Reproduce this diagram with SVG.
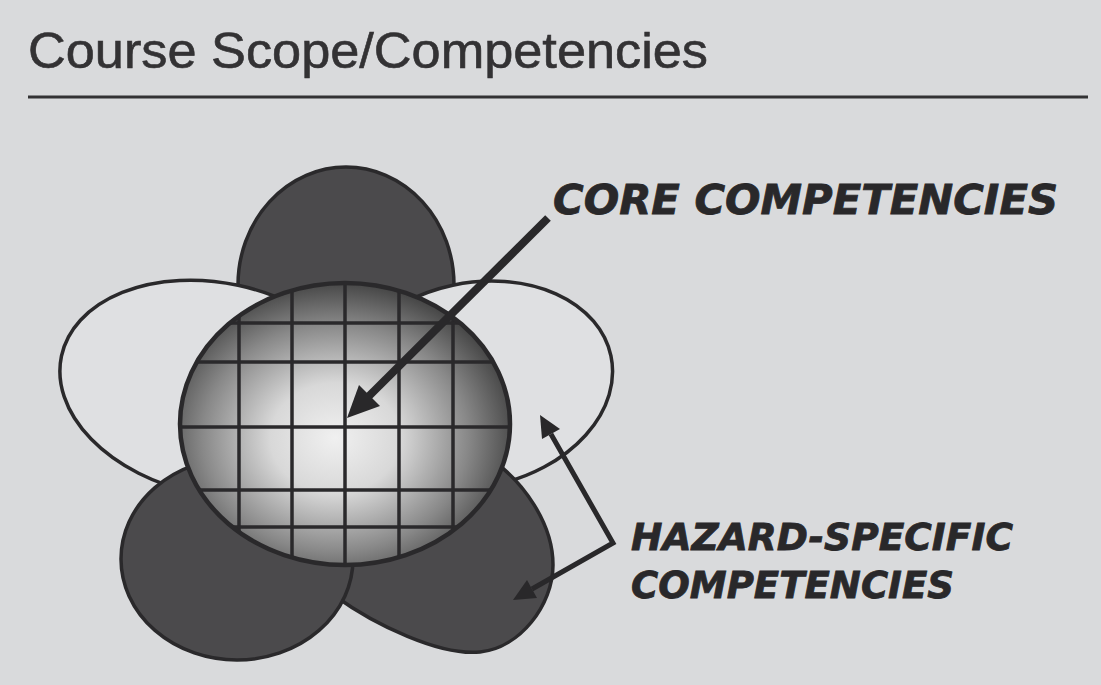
<svg xmlns="http://www.w3.org/2000/svg" width="1101" height="685" viewBox="0 0 1101 685">
<defs>
<style>
.dark{fill:#4b4a4c;stroke:#2a292b;stroke-width:3.5}
.white{fill:#dfe0e2;stroke:#2a292b;stroke-width:3.5}
.grid{stroke:#2a292b;stroke-width:3.5}
.lbl{font-family:"DejaVu Sans",Verdana,sans-serif;font-weight:bold;font-style:italic;fill:#29282a;stroke:#29282a;stroke-width:0.8}
</style>
<radialGradient id="core" cx="0.47" cy="0.55" r="0.56">
<stop offset="0" stop-color="#f0f0f0"/>
<stop offset="0.35" stop-color="#d8d8d8"/>
<stop offset="0.72" stop-color="#888888"/>
<stop offset="1" stop-color="#434343"/>
</radialGradient>
<clipPath id="coreClip"><ellipse cx="345" cy="424" rx="165" ry="141"/></clipPath>
</defs>
<rect width="1101" height="685" fill="#d9dadc"/>
<text x="28" y="68" font-family="Liberation Sans, Arial, sans-serif" font-size="50" fill="#333234" stroke="#333234" stroke-width="0.6" textLength="680" lengthAdjust="spacingAndGlyphs">Course Scope/Competencies</text>
<line x1="28" y1="97" x2="1088" y2="97" stroke="#333234" stroke-width="3"/>

<g id="petal-top"><ellipse class="dark" cx="346" cy="285" rx="108" ry="118"/></g>
<g id="petal-left"><ellipse class="white" cx="216" cy="389" rx="158" ry="106" transform="rotate(12 216 389)"/></g>
<g id="petal-right"><ellipse class="white" cx="474" cy="385" rx="140" ry="102" transform="rotate(-12 474 385)"/></g>
<g id="petal-bottom-right"><path class="dark" d="M495,462 C522,482 553,522 553,565 C553,605 520,648 480,652 C440,656 375,625 335,596 L320,560 L400,480 Z"/></g>
<g id="petal-bottom-left"><ellipse class="dark" cx="237" cy="559" rx="116" ry="101"/></g>

<g id="core">
<ellipse cx="345" cy="424" rx="165" ry="141" fill="url(#core)"/>
<g clip-path="url(#coreClip)" class="grid">
<line x1="239" y1="270" x2="239" y2="580"/>
<line x1="292" y1="270" x2="292" y2="580"/>
<line x1="345" y1="270" x2="345" y2="580"/>
<line x1="399" y1="270" x2="399" y2="580"/>
<line x1="453" y1="270" x2="453" y2="580"/>
<line x1="170" y1="323" x2="520" y2="323"/>
<line x1="170" y1="362" x2="520" y2="362"/>
<line x1="170" y1="427" x2="520" y2="427"/>
<line x1="170" y1="490" x2="520" y2="490"/>
<line x1="170" y1="527" x2="520" y2="527"/>
</g>
<ellipse cx="345" cy="424" rx="165" ry="141" fill="none" stroke="#2a292b" stroke-width="4.5"/>
</g>

<g id="connectors" fill="#29282a" stroke="#29282a">
<line x1="548" y1="218" x2="365" y2="400" stroke-width="8"/>
<polygon points="347,418 359,385 380,406" stroke="none"/>
<polyline points="550.9,434.1 613,543 532,589" fill="none" stroke-width="5" stroke-linejoin="miter"/>
<polygon points="540,415 560,429 542,439" stroke="none"/>
<polygon points="513,600 527,580 537,598" stroke="none"/>
</g>

<g id="label-core"><text class="lbl" x="553" y="214" font-size="41" textLength="505" lengthAdjust="spacingAndGlyphs">CORE COMPETENCIES</text></g>
<g id="label-hazard">
<text class="lbl" x="631" y="550" font-size="37" textLength="382" lengthAdjust="spacingAndGlyphs">HAZARD-SPECIFIC</text>
<text class="lbl" x="631" y="598" font-size="37" textLength="323" lengthAdjust="spacingAndGlyphs">COMPETENCIES</text>
</g>
</svg>
